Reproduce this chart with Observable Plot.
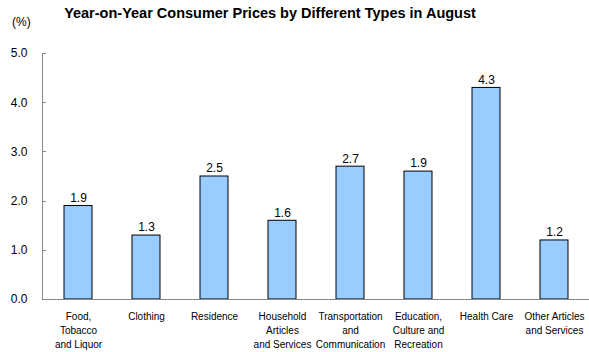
<!DOCTYPE html>
<html><head><meta charset="utf-8">
<script src="https://cdn.jsdelivr.net/npm/d3@7"></script>
<script src="https://cdn.jsdelivr.net/npm/@observablehq/plot@0.6"></script>
<style>
body{margin:0;background:#fff;font-family:"Liberation Sans",Arial,sans-serif;}
#wrap{position:relative;width:589px;height:352px;}
#title{position:absolute;left:0;width:540px;top:5px;text-align:center;font-weight:bold;font-size:14.5px;color:#000;}
#unit{position:absolute;left:12px;top:15px;font-size:12px;color:#000;}
</style>
</head><body>
<div id="wrap"><div id="title">Year-on-Year Consumer Prices by Different Types in August</div><div id="unit">(%)</div></div>
<script>
const categories = ["Food,\nTobacco\nand Liquor","Clothing","Residence","Household\nArticles\nand Services","Transportation\nand\nCommunication","Education,\nCulture and\nRecreation","Health Care","Other Articles\nand Services"];
const values = [1.9, 1.3, 2.5, 1.6, 2.7, 2.6, 4.3, 1.2];
const valueLabels = ["1.9","1.3","2.5","1.6","2.7","1.9","4.3","1.2"];
const yTicks = [0,1,2,3,4,5];

const data = categories.map((c,i)=>({c, v: values[i], t: valueLabels[i]}));

function yAxisLine(index, scales, values, dims) {
  const g = d3.create("svg:g").attr("stroke", "#888").attr("fill", "none").attr("shape-rendering", "crispEdges");
  const x0 = dims.marginLeft + 0.5;
  const y = scales.y;
  g.append("line").attr("x1", x0).attr("x2", x0).attr("y1", y(yTicks[0])).attr("y2", y(yTicks[yTicks.length-1]));
  for (const t of yTicks) {
    g.append("line").attr("x1", x0).attr("x2", x0 + 3).attr("y1", Math.round(y(t)) + 0.5).attr("y2", Math.round(y(t)) + 0.5);
  }
  return g.node();
}

const chart = Plot.plot({
  width: 589, height: 352,
  marginTop: 53, marginBottom: 53, marginLeft: 42, marginRight: 0,
  style: {fontFamily: '"Liberation Sans", Arial, sans-serif', color: "#000", background: "#fff"},
  x: {domain: categories, paddingInner: 0.59, paddingOuter: 0.295, axis: null},
  y: {domain: [0,5], axis: null},
  marks: [
    Plot.barY(data, {x: "c", y: "v", fill: "#99CCFF", stroke: "#000", strokeWidth: 1}),
    Plot.ruleY([0], {stroke: "#888"}),
    yAxisLine,
    Plot.axisY(yTicks, {label: null, tickSize: 0, tickPadding: 15, tickFormat: d=>d.toFixed(1), fontSize: 12, fill: "#000"}),
    Plot.text(data, {x: "c", y: "v", text: "t", dy: -8, fontSize: 12, fill: "#000"}),
    Plot.text(data, {x: "c", text: "c", frameAnchor: "bottom", lineAnchor: "top", dy: 11, fontSize: 10, lineHeight: 1.4, fill: "#000"})
  ]
});
document.getElementById("wrap").appendChild(chart);
</script>
</body></html>
